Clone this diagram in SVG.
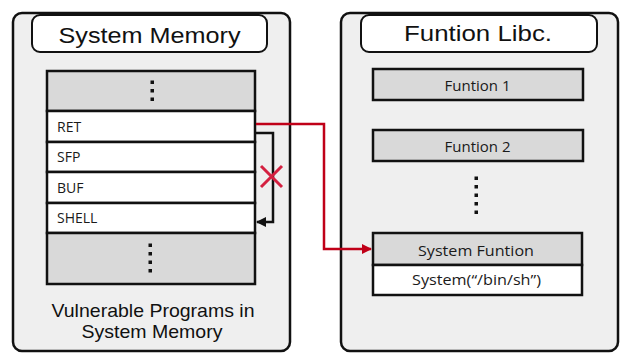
<svg xmlns="http://www.w3.org/2000/svg" width="622" height="353" viewBox="0 0 622 353">
<defs>
<style>
.panel{fill:#efefef;stroke:#111;stroke-width:2.5}
.title{fill:#fff;stroke:#111;stroke-width:2}
.tt{font-family:"Liberation Sans",Arial,sans-serif;font-size:22px;fill:#111;text-anchor:middle}
.cell{fill:#fff;stroke:#111;stroke-width:2.5}
.gray{fill:#d9d9d9;stroke:#111;stroke-width:2.5}
.lbl{font-family:"Open Sans","Noto Sans",sans-serif;font-size:14px;fill:#1a1a1a}
.flbl{font-family:"Open Sans","Noto Sans",sans-serif;font-size:15px;fill:#1a1a1a;text-anchor:middle}
.cap{font-family:"Liberation Sans",Arial,sans-serif;font-size:19px;fill:#111;text-anchor:middle}
.dot{fill:#111}
</style>
<marker id="ab" viewBox="0 0 10 10" refX="9" refY="5" markerWidth="4" markerHeight="4" orient="auto" markerUnits="strokeWidth"><path d="M0,0 L10,5 L0,10 z" fill="#111"/></marker>
<marker id="ar" viewBox="0 0 10 10" refX="9" refY="5" markerWidth="4" markerHeight="4" orient="auto" markerUnits="strokeWidth"><path d="M0,0 L10,5 L0,10 z" fill="#c00018"/></marker>
</defs>
<rect width="622" height="353" fill="#fff"/>

<g id="system-memory">
<rect class="panel" x="13" y="13" width="277" height="338" rx="9"/>
<rect class="title" x="32" y="15" width="235" height="37" rx="8"/>
<text class="tt" x="149.5" y="43" textLength="182" lengthAdjust="spacingAndGlyphs">System Memory</text>
</g>

<g id="stack">
<rect class="gray" x="47" y="71" width="208" height="40"/>
<rect class="dot" x="150.5" y="80.5" width="3.5" height="3.5"/>
<rect class="dot" x="150.5" y="89" width="3.5" height="3.5"/>
<rect class="dot" x="150.5" y="97.5" width="3.5" height="3.5"/>
</g>
<g id="ret">
<rect class="cell" x="47" y="111" width="208" height="31"/>
<text class="lbl" x="57" y="132">RET</text>
</g>
<g id="sfp">
<rect class="cell" x="47" y="142" width="208" height="30"/>
<text class="lbl" x="57" y="162">SFP</text>
</g>
<g id="buf">
<rect class="cell" x="47" y="172" width="208" height="31"/>
<text class="lbl" x="57" y="193">BUF</text>
</g>
<g id="shell">
<rect class="cell" x="47" y="203" width="208" height="30"/>
<text class="lbl" x="57" y="223">SHELL</text>
</g>
<g id="stack-bottom">
<rect class="gray" x="47" y="233" width="208" height="51"/>
<rect class="dot" x="148.5" y="243.5" width="3.5" height="3.5"/>
<rect class="dot" x="148.5" y="252" width="3.5" height="3.5"/>
<rect class="dot" x="148.5" y="260.5" width="3.5" height="3.5"/>
<rect class="dot" x="148.5" y="269" width="3.5" height="3.5"/>
</g>
<g id="caption">
<text class="cap" x="153" y="317" textLength="203" lengthAdjust="spacingAndGlyphs">Vulnerable Programs in</text>
<text class="cap" x="152" y="338" textLength="141" lengthAdjust="spacingAndGlyphs">System Memory</text>
</g>

<g id="function-libc">
<rect class="panel" x="341" y="13" width="277" height="338" rx="9"/>
<rect class="title" x="361" y="15" width="236" height="37" rx="8"/>
<text class="tt" x="478" y="41" textLength="148" lengthAdjust="spacingAndGlyphs">Funtion Libc.</text>
</g>
<g id="funtion1">
<rect class="gray" x="373" y="69" width="210" height="31"/>
<text class="flbl" x="477.5" y="91">Funtion 1</text>
</g>
<g id="funtion2">
<rect class="gray" x="373" y="130" width="210" height="31"/>
<text class="flbl" x="477.5" y="152">Funtion 2</text>
</g>
<g id="dots">
<rect class="dot" x="474.5" y="176.5" width="3.5" height="3.5"/>
<rect class="dot" x="474.5" y="185" width="3.5" height="3.5"/>
<rect class="dot" x="474.5" y="193.5" width="3.5" height="3.5"/>
<rect class="dot" x="474.5" y="202" width="3.5" height="3.5"/>
<rect class="dot" x="474.5" y="210.5" width="3.5" height="3.5"/>
</g>
<g id="system-funtion">
<rect class="gray" x="373" y="233" width="209" height="32"/>
<text class="flbl" x="476" y="256" textLength="116" lengthAdjust="spacingAndGlyphs">System Funtion</text>
<rect class="cell" x="373" y="265" width="209" height="30"/>
<text class="flbl" x="476.5" y="285" textLength="129" lengthAdjust="spacingAndGlyphs">System(“/bin/sh”)</text>
</g>

<g id="connectors">
<path d="M256,133 H273 V222 H257" fill="none" stroke="#111" stroke-width="2.5" marker-end="url(#ab)"/>
<path d="M256,124 H324 V249 H371" fill="none" stroke="#c00018" stroke-width="2.5" marker-end="url(#ar)"/>
<path d="M261,166 L282,187 M282,166 L261,187" stroke="#d42040" stroke-width="3"/>
</g>
</svg>
